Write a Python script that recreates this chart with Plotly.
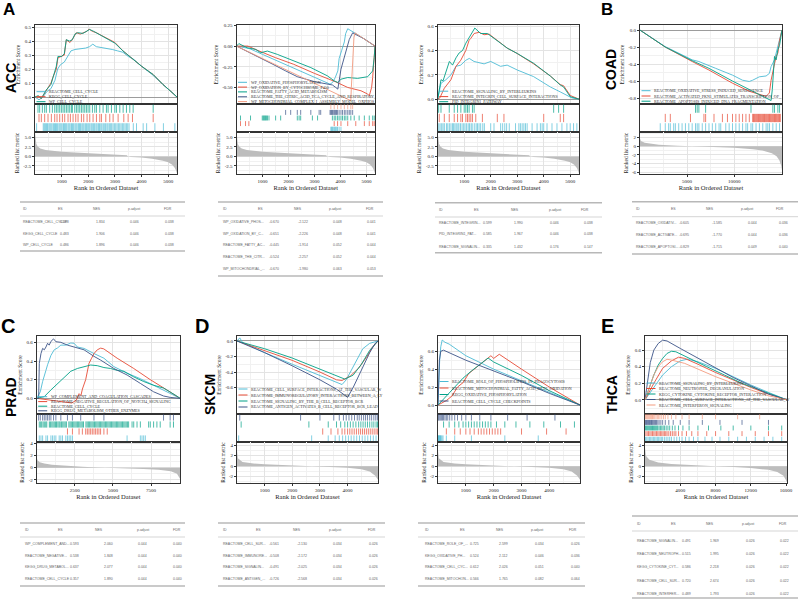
import plotly.graph_objects as go

W, H = 800, 599

# ============================ DATA ============================
TABLE_HEADER = ["ID", "ES", "NES", "p.adjust", "FDR"]

# ---------- ACC (shared ranked list) ----------
acc_N = 5330
acc_metric = [(0, 6.2), (20, 4.5), (50, 3.3), (100, 2.6), (200, 2.1), (400, 1.7), (700, 1.4), (1000, 1.2),
              (1500, 1.0), (2000, 0.8), (2500, 0.6), (3000, 0.4), (3450, 0.28), (3480, 0.02), (3600, -0.12),
              (4000, -0.3), (4400, -0.6), (4800, -1.1), (5000, -1.5), (5150, -2.2), (5250, -3.0), (5300, -3.8),
              (5330, -4.4)]
acc_x_ticks = [1000, 2000, 3000, 4000, 5000]
acc_x_ticktext = ["1000", "2000", "3000", "4000", "5000"]
acc_metric_ticks = [-2.5, 0, 2.5, 5]
acc_metric_ticktext = ["-2.5", "0.0", "2.5", "5.0"]

# ACC plot 1
acc1_sets = ["REACTOME_CELL_CYCLE", "KEGG_CELL_CYCLE", "WP_CELL_CYCLE"]
acc1_es = [
    [(0, 0), (150, -0.02), (300, 0.0), (450, 0.04), (600, 0.06), (750, 0.12), (850, 0.2), (950, 0.23), (1100, 0.25),
     (1250, 0.3), (1350, 0.33), (1500, 0.34), (1700, 0.345), (1900, 0.35), (2050, 0.36), (2170, 0.378), (2300, 0.36),
     (2500, 0.355), (2700, 0.345), (2900, 0.34), (3100, 0.33), (3300, 0.32), (3500, 0.29), (3700, 0.27), (4000, 0.22),
     (4400, 0.16), (4800, 0.09), (5100, 0.04), (5330, 0.0)],
    [(0, 0), (150, 0.0), (240, -0.01), (420, 0.05), (600, 0.1), (670, 0.14), (800, 0.2), (860, 0.28), (1000, 0.29),
     (1100, 0.3), (1175, 0.41), (1300, 0.39), (1365, 0.40), (1450, 0.43), (1550, 0.46), (1700, 0.45), (1800, 0.46),
     (1950, 0.47), (2030, 0.486), (2150, 0.47), (2300, 0.46), (2500, 0.44), (2680, 0.42), (3000, 0.39), (3300, 0.33),
     (3680, 0.267), (4000, 0.22), (4440, 0.16), (4800, 0.09), (5100, 0.04), (5330, 0)],
    [(0, 0), (120, 0.01), (240, -0.01), (420, 0.05), (600, 0.09), (700, 0.15), (800, 0.22), (860, 0.29), (1000, 0.29),
     (1100, 0.31), (1175, 0.41), (1300, 0.40), (1400, 0.41), (1500, 0.45), (1600, 0.46), (1800, 0.455), (1950, 0.47),
     (2050, 0.483), (2200, 0.47), (2350, 0.455), (2500, 0.44), (2700, 0.415), (3000, 0.385), (3300, 0.33),
     (3680, 0.267), (4000, 0.22), (4440, 0.16), (4800, 0.09), (5100, 0.04), (5330, 0)],
]
acc1_hits = [
    [60, 310, 350, 390, 430, 470, 520, 560, 600, 640, 690, 730, 770, 810, 850, 900, 940, 980, 1020, 1070, 1110, 1150,
     1190, 1240, 1280, 1320, 1370, 1410, 1450, 1500, 1540, 1580, 1630, 1670, 1710, 1760, 1800, 1840, 1890, 1930, 1980,
     2020, 2060, 2110, 2150, 2200, 2240, 2290, 2330, 2380, 2420, 2470, 2510, 2560, 2600, 2650, 2700, 2740, 2790, 2840,
     2880, 2930, 2980, 3030, 3080, 3130, 3180, 3230, 3280, 3330, 3380, 3430, 3480, 3530, 3690, 3810, 4060, 4190, 4500,
     4820, 5250],
    [150, 238, 363, 489, 614, 739, 827, 927, 1028, 1115, 1240, 1328, 1429, 1529, 1616, 1742, 1829, 1955, 2055, 2180,
     2306, 2431, 2494, 2657, 2807, 2932, 3120, 3333, 3496, 3659, 4436],
    [113, 175, 276, 363, 426, 551, 652, 739, 802, 864, 927, 990, 1053, 1115, 1178, 1240, 1303, 1366, 1403, 1491, 1554,
     1616, 1679, 1742, 1804, 1867, 1930, 1992, 2055, 2155, 2243, 2306, 2431, 2556, 2681, 2744, 2869, 2995, 3057, 3183,
     3308, 3433, 3558, 3684, 4436],
]
acc1_es_ticks = [0, 0.1, 0.2, 0.3, 0.4, 0.5]
acc1_es_ticktext = ["0.0", "0.1", "0.2", "0.3", "0.4", "0.5"]
acc1_table = [["REACTOME_CELL_CYCLE", "0.378", "1.834", "0.046", "0.038"],
              ["KEGG_CELL_CYCLE", "0.483", "1.906", "0.046", "0.038"],
              ["WP_CELL_CYCLE", "0.486", "1.896", "0.046", "0.038"]]

# ACC plot 2
acc2_sets = ["WP_OXIDATIVE_PHOSPHORYLATION", "WP_OXIDATION_BY_CYTOCHROME_P450", "REACTOME_FATTY_ACID_METABOLISM",
             "REACTOME_THE_CITRIC_ACID_TCA_CYCLE_AND_RESPIRATORY_", "WP_MITOCHONDRIAL_COMPLEX_I_ASSEMBLY_MODEL_OXPHOS"]
acc2_es = [
    [(0, 0), (500, -0.03), (1000, -0.1), (1500, -0.17), (2000, -0.24), (2500, -0.31), (3000, -0.38), (3400, -0.43),
     (3600, -0.46), (3700, -0.44), (3800, -0.38), (3900, -0.3), (3950, -0.15), (4050, -0.05), (4150, 0.05),
     (4200, 0.15), (4280, 0.21), (4700, 0.13), (5330, 0)],
    [(0, 0), (150, 0.0), (440, 0.0), (800, -0.05), (1500, -0.14), (2200, -0.22), (3000, -0.33), (3800, -0.43),
     (4280, -0.5), (4790, -0.54), (5050, -0.58), (5110, -0.6), (5200, -0.5), (5240, -0.38), (5280, -0.25),
     (5300, -0.14), (5330, 0)],
    [(0, 0), (90, 0.03), (410, -0.02), (740, -0.04), (930, -0.08), (1190, -0.06), (1570, -0.1), (2220, -0.18),
     (2860, -0.26), (3500, -0.36), (3760, -0.42), (3900, -0.44), (4020, -0.4), (4280, -0.38), (4660, -0.39),
     (5050, -0.37), (5240, -0.3), (5300, -0.14), (5330, 0)],
    [(0, 0), (800, -0.12), (1400, -0.22), (1890, -0.3), (2340, -0.37), (3000, -0.43), (3690, -0.47), (3820, -0.5),
     (3900, -0.52), (4020, -0.28), (4150, -0.12), (4340, 0.08), (4470, 0.16), (4900, 0.09), (5330, 0)],
    [(0, 0), (1000, -0.15), (2000, -0.3), (3000, -0.45), (4000, -0.6), (4400, -0.66), (4420, -0.5), (4450, -0.3),
     (4480, -0.1), (4520, 0.1), (4560, 0.16), (5330, 0)],
]
acc2_hits = [
    [3630, 3660, 3690, 3720, 3760, 3790, 3820, 3860, 3890, 3950, 4020],
    [154, 347, 476, 3760, 3890, 4020, 4280, 4590, 4920, 5110, 5240, 5300],
    [154, 540, 991, 1030, 1060, 1090, 1120, 1160, 1190, 1250, 1505, 1700, 2340, 2410, 2470, 2920, 3120, 3690, 3760,
     3820, 3890, 3950, 4020, 4080, 4150, 4210, 4280, 4400, 4530, 4720, 4920, 5110, 5240, 5300],
    [1890, 2085, 2340, 2470, 2860, 3180, 3240, 3600, 3630, 3660, 3690, 3720, 3760, 3790, 3820, 3850, 3890, 3950, 4020,
     4080, 4150, 4210, 4280, 4340, 4400, 4470],
    [3630, 3760, 3890, 4020, 4150, 4280, 4400, 4470],
]
acc2_es_ticks = [-0.5, -0.25, 0, 0.25]
acc2_es_ticktext = ["-0.50", "-0.25", "0.00", "0.25"]
acc2_table = [["WP_OXIDATIVE_PHOS...", "-0.670", "-2.122", "0.048", "0.041"],
              ["WP_OXIDATION_BY_C...", "-0.651", "-2.226", "0.048", "0.041"],
              ["REACTOME_FATTY_AC...", "-0.445", "-1.914", "0.052", "0.044"],
              ["REACTOME_THE_CITR...", "-0.524", "-2.257", "0.052", "0.044"],
              ["WP_MITOCHONDRIAL_...", "-0.670", "-1.980", "0.063", "0.053"]]

# ACC plot 3
acc3_sets = ["REACTOME_SIGNALING_BY_INTERLEUKINS", "REACTOME_INTEGRIN_CELL_SURFACE_INTERACTIONS",
             "PID_INTEGRIN1_PATHWAY"]
acc3_es = [
    [(0, 0), (124, 0.13), (310, 0.16), (500, 0.2), (690, 0.27), (870, 0.28), (1060, 0.32), (1190, 0.335),
     (1370, 0.31), (1750, 0.29), (2000, 0.31), (2370, 0.27), (2620, 0.28), (3000, 0.24), (3620, 0.185),
     (4250, 0.10), (4620, 0.06), (4870, 0.035), (5060, 0.01), (5330, 0)],
    [(0, 0), (80, 0.01), (250, 0.09), (500, 0.16), (690, 0.27), (870, 0.32), (1060, 0.40), (1186, 0.485),
     (1249, 0.5), (1374, 0.54), (1560, 0.55), (1750, 0.53), (1940, 0.535), (2250, 0.485), (2620, 0.42),
     (3000, 0.375), (3620, 0.29), (4250, 0.19), (4620, 0.12), (4750, 0.11), (5000, 0.03), (5330, 0)],
    [(0, 0), (124, 0.16), (200, 0.15), (310, 0.23), (440, 0.31), (560, 0.28), (690, 0.34), (810, 0.38), (936, 0.40),
     (1060, 0.46), (1186, 0.51), (1300, 0.55), (1400, 0.585), (1620, 0.54), (1875, 0.54), (2375, 0.46),
     (2620, 0.42), (3000, 0.376), (3620, 0.295), (4250, 0.19), (4620, 0.117), (4750, 0.1), (5000, 0.02), (5330, 0)],
]
acc3_hits = [
    [40, 90, 150, 200, 250, 330, 380, 440, 500, 560, 600, 650, 700, 760, 800, 860, 920, 980, 1030, 1090, 1150, 1200,
     1260, 1300, 1380, 1450, 1500, 1560, 1620, 1700, 1760, 1999, 2124, 2374, 2450, 2530, 2600, 2700, 2936, 3061, 3120,
     3186, 3250, 3311, 3374, 3561, 3749, 3874, 3940, 3999, 4124, 4311, 4499, 4686, 4874, 4999, 5124, 5249],
    [60, 249, 436, 624, 749, 874, 936, 1061, 1124, 1186, 1249, 1311, 1436, 1686, 2249, 2499, 3999, 4624, 4749],
    [36, 124, 436, 624, 749, 874, 1000, 1061, 1124, 1186, 1311, 1374, 4374, 4561, 4749],
]
acc3_es_ticks = [0, 0.2, 0.4, 0.6]
acc3_es_ticktext = ["0.0", "0.2", "0.4", "0.6"]
acc3_table = [["REACTOME_INTEGRIN...", "0.599", "1.990", "0.046", "0.038"],
              ["PID_INTEGRIN1_PAT...", "0.585", "1.967", "0.046", "0.038"],
              ["REACTOME_SIGNALIN...", "0.335", "1.432", "0.176", "0.147"]]

# ---------- COAD ----------
coad_N = 15080
coad_metric = [(0, 1.8), (100, 1.2), (500, 0.8), (1000, 0.6), (2000, 0.35), (4000, 0.15), (6000, 0.0),
               (8000, -0.15), (10000, -0.35), (12000, -0.7), (13000, -1.0), (14000, -1.6), (14500, -2.3),
               (14800, -3.2), (15000, -4.5), (15080, -5.6)]
coad_x_ticks = [5000, 10000]
coad_x_ticktext = ["5000", "10000"]
coad_metric_ticks = [-6, -4, -2, 0, 2]
coad_metric_ticktext = ["-6", "-4", "-2", "0", "2"]
coad_sets = ["REACTOME_OXIDATIVE_STRESS_INDUCED_SENESCENCE", "REACTOME_ACTIVATED_PKN1_STIMULATES_TRANSCRIPTION_OF_",
             "REACTOME_APOPTOSIS_INDUCED_DNA_FRAGMENTATION"]
coad_es = [
    [(0, 0), (2690, -0.195), (5540, -0.35), (6250, -0.37), (8030, -0.45), (9820, -0.53), (10890, -0.59),
     (11600, -0.605), (11960, -0.59), (12320, -0.57), (12670, -0.55), (13390, -0.54), (13740, -0.51), (13920, -0.43),
     (14280, -0.35), (14460, -0.27), (14640, -0.2), (14820, -0.12), (15080, 0)],
    [(0, 0), (2690, -0.2), (5540, -0.37), (7320, -0.47), (9820, -0.625), (11600, -0.72), (13390, -0.78),
     (13740, -0.74), (13920, -0.59), (14100, -0.47), (14280, -0.4), (14460, -0.31), (14640, -0.27), (14820, -0.12),
     (15080, 0)],
    [(0, 0), (2690, -0.2), (5540, -0.36), (7320, -0.45), (9820, -0.6), (11600, -0.70), (13390, -0.80),
     (13920, -0.829), (14050, -0.7), (14100, -0.62), (14280, -0.31), (14460, -0.35), (14640, -0.23), (14820, -0.18),
     (15000, -0.05), (15080, 0)],
]
coad_hits = [
    [2150, 2684, 3041, 3220, 3577, 3755, 4112, 4469, 4826, 5183, 5540, 5897, 6075, 6254, 6611, 6968, 7325, 7682, 8039,
     8396, 8574, 9110, 9467, 9824, 10181, 10538, 10895, 11252, 11430, 11787, 11966, 12323, 12680, 13037, 13394, 13573,
     13751, 14108, 14465, 14822],
    [2684, 3220, 5361, 6789, 6968, 7860, 8753, 9288, 9824, 10181, 10538, 10895, 11252, 11609, 11966, 12050, 12144,
     12230, 12323, 12410, 12501, 12590, 12680, 12770, 12858, 12950, 13037, 13130, 13215, 13300, 13394, 13480, 13573,
     13660, 13751, 13840, 13930, 14020, 14108, 14200, 14287, 14380, 14465, 14550, 14644, 14730, 14822, 14900],
    [5897, 6075, 6254, 6968, 11787, 14108, 14287, 14644, 14822],
]
coad_es_ticks = [-0.8, -0.6, -0.4, -0.2, 0]
coad_es_ticktext = ["-0.8", "-0.6", "-0.4", "-0.2", "0.0"]
coad_table = [["REACTOME_OXIDATIV...", "-0.605", "-1.585", "0.044", "0.036"],
              ["REACTOME_ACTIVATE...", "-0.695", "-1.770", "0.044", "0.036"],
              ["REACTOME_APOPTOSI...", "-0.829", "-1.715", "0.049", "0.040"]]

# ---------- PRAD ----------
prad_N = 9400
prad_metric = [(0, 1.8), (50, 1.2), (200, 0.9), (500, 0.7), (1000, 0.5), (2000, 0.3), (3000, 0.15), (4000, 0.05),
               (5000, 0.0), (6000, -0.1), (7000, -0.2), (8000, -0.35), (8800, -0.6), (9200, -1.0), (9400, -1.8)]
prad_x_ticks = [2500, 5000, 7500]
prad_x_ticktext = ["2500", "5000", "7500"]
prad_metric_ticks = [-2, 0, 2, 4]
prad_metric_ticktext = ["-2", "0", "2", "4"]
prad_sets = ["WP_COMPLEMENT_AND_COAGULATION_CASCADES", "REACTOME_NEGATIVE_REGULATION_OF_NOTCH4_SIGNALING",
             "REACTOME_CELL_CYCLE", "KEGG_DRUG_METABOLISM_OTHER_ENZYMES"]
prad_es = [
    [(0, 0), (236, 0.07), (388, 0.18), (497, 0.23), (606, 0.3), (714, 0.36), (932, 0.46), (1149, 0.52),
     (1366, 0.54), (1583, 0.57), (1909, 0.57), (2235, 0.593), (2453, 0.59), (2670, 0.55), (3105, 0.535),
     (3756, 0.48), (4408, 0.43), (5060, 0.34), (5929, 0.27), (6799, 0.21), (7668, 0.14), (8537, 0.07),
     (8972, 0.036), (9400, 0)],
    [(0, 0), (800, -0.02), (1600, -0.04), (2300, -0.05), (2600, -0.02), (2780, 0.05), (2900, 0.03), (3000, 0.1),
     (3213, 0.2), (3431, 0.375), (3600, 0.43), (3759, 0.48), (3976, 0.52), (4194, 0.538), (4400, 0.53),
     (5277, 0.43), (6364, 0.32), (7451, 0.2), (8537, 0.09), (9400, 0)],
    [(0, 0), (497, 0.018), (932, 0.09), (1366, 0.16), (1800, 0.23), (2235, 0.29), (2670, 0.32), (3105, 0.34),
     (3539, 0.357), (3974, 0.35), (4408, 0.33), (4843, 0.32), (5277, 0.30), (5712, 0.29), (6364, 0.23),
     (7016, 0.18), (7668, 0.14), (8320, 0.11), (8754, 0.07), (9189, 0.025), (9400, 0)],
    [(0, 0), (128, 0.0), (171, 0.375), (280, 0.48), (388, 0.535), (500, 0.52), (606, 0.55), (714, 0.59),
     (820, 0.57), (932, 0.61), (1105, 0.637), (1257, 0.607), (1583, 0.60), (2018, 0.57), (2453, 0.55),
     (3105, 0.52), (3756, 0.45), (4191, 0.41), (5060, 0.32), (5929, 0.25), (6799, 0.16), (7668, 0.07),
     (8320, 0.025), (8754, 0.01), (9400, 0)],
]
prad_hits = [
    [171, 280, 388, 606, 714, 932, 1040, 1149, 1257, 1475, 1583, 1692, 1909, 2018, 2127, 2235, 2344, 5929, 6799,
     6907, 7016, 7125],
    [2018, 2344, 2779, 2996, 3213, 3322, 3431, 3539, 3648, 3756, 3865, 3974, 4083, 4191, 4408, 4626],
    [170, 260, 330, 420, 500, 590, 660, 830, 900, 990, 1070, 1150, 1230, 1300, 1390, 1470, 1540, 1630, 1710, 1790,
     1870, 1950, 2110, 2190, 2270, 2350, 2430, 2510, 2590, 2670, 2750, 2830, 2910, 2990, 3070, 3230, 3310, 3390,
     3470, 3550, 3630, 3710, 3790, 3870, 3950, 4030, 4110, 4190, 4270, 4350, 4430, 4510, 4590, 4670, 4750, 4830,
     4910, 4990, 5070, 5150, 5230, 5310, 5390, 5470, 5550, 5630, 5710, 5790, 5870, 5950, 6030, 6255, 6364, 6581,
     6799, 7342, 7451, 7668, 7885, 8102, 8754, 8972],
    [128, 236, 388, 497, 606, 714, 823, 932, 1105, 1257, 1583, 2018, 2344, 2887, 3756, 4408, 8320, 8754, 8972],
]
prad_es_ticks = [0, 0.2, 0.4, 0.6]
prad_es_ticktext = ["0.0", "0.2", "0.4", "0.6"]
prad_table = [["WP_COMPLEMENT_AND...", "0.593", "2.060", "0.044", "0.040"],
              ["REACTOME_NEGATIVE...", "0.538", "1.848", "0.044", "0.040"],
              ["KEGG_DRUG_METABOL...", "0.637", "2.077", "0.044", "0.040"],
              ["REACTOME_CELL_CYCLE", "0.357", "1.890", "0.044", "0.040"]]

# ---------- SKCM (shared ranked list) ----------
skcm_N = 5100
skcm_metric = [(0, 3.0), (30, 1.5), (200, 0.8), (600, 0.5), (1000, 0.35), (2000, 0.15), (3000, 0.0), (3500, -0.1),
               (4000, -0.3), (4500, -0.6), (4800, -1.0), (5000, -1.8), (5100, -2.6)]
skcm_x_ticks = [1000, 2000, 3000, 4000]
skcm_x_ticktext = ["1000", "2000", "3000", "4000"]
skcm_metric_ticks = [-2, 0, 2, 4]
skcm_metric_ticktext = ["-2", "0", "2", "4"]

skcm1_sets = ["REACTOME_CELL_SURFACE_INTERACTIONS_AT_THE_VASCULAR_W",
              "REACTOME_IMMUNOREGULATORY_INTERACTIONS_BETWEEN_A_LY",
              "REACTOME_SIGNALING_BY_THE_B_CELL_RECEPTOR_BCR",
              "REACTOME_ANTIGEN_ACTIVATES_B_CELL_RECEPTOR_BCR_LEAD"]
skcm1_es = [
    [(0, 0), (100, 0.04), (200, -0.02), (1000, -0.15), (2000, -0.3), (3000, -0.45), (3500, -0.52), (3800, -0.561),
     (3950, -0.5), (4100, -0.4), (4250, -0.3), (4400, -0.2), (4550, -0.1), (4800, -0.03), (5100, 0)],
    [(0, 0), (1000, -0.12), (2000, -0.25), (3000, -0.4), (3600, -0.5), (3800, -0.508), (4100, -0.45), (4400, -0.35),
     (4700, -0.2), (4900, -0.08), (5100, 0)],
    [(0, 0), (1000, -0.1), (2000, -0.22), (3000, -0.36), (3600, -0.45), (3900, -0.491), (4200, -0.44), (4500, -0.3),
     (4800, -0.12), (5100, 0)],
    [(0, 0), (1000, -0.15), (2000, -0.32), (3000, -0.5), (3600, -0.62), (3900, -0.7), (4000, -0.726), (4200, -0.6),
     (4400, -0.45), (4600, -0.3), (4800, -0.15), (5000, -0.03), (5100, 0)],
]
skcm1_hits = [
    [60, 2700, 3300, 3550, 3700, 3820, 3930, 4030, 4130, 4230, 4330, 4430, 4530, 4630, 4730, 4830, 4930, 5030],
    [3100, 3400, 3650, 3800, 3900, 4000, 4080, 4160, 4240, 4320, 4400, 4470, 4540, 4610, 4680, 4750, 4820, 4890,
     4960, 5030, 5090],
    [150, 2600, 3300, 3600, 3750, 3900, 4000, 4100, 4200, 4300, 4400, 4480, 4560, 4640, 4720, 4800, 4880, 4950,
     5030, 5080],
    [100, 2300, 3000, 3500, 3700, 3850, 3950, 4050, 4150, 4250, 4350, 4420, 4500, 4580, 4650, 4720, 4800, 4870,
     4950, 5020, 5080],
]
skcm1_es_ticks = [-0.6, -0.4, -0.2, 0]
skcm1_es_ticktext = ["-0.6", "-0.4", "-0.2", "0.0"]
skcm1_table = [["REACTOME_CELL_SUR...", "-0.561", "-2.130", "0.034", "0.026"],
               ["REACTOME_IMMUNORE...", "-0.508", "-2.172", "0.034", "0.026"],
               ["REACTOME_SIGNALIN...", "-0.491", "-2.025", "0.034", "0.026"],
               ["REACTOME_ANTIGEN_...", "-0.726", "-2.568", "0.034", "0.026"]]

skcm2_sets = ["REACTOME_ROLE_OF_PHOSPHOLIPIDS_IN_PHAGOCYTOSIS",
              "REACTOME_MITOCHONDRIAL_FATTY_ACID_BETA_OXIDATION",
              "KEGG_OXIDATIVE_PHOSPHORYLATION",
              "REACTOME_CELL_CYCLE_CHECKPOINTS"]
skcm2_es = [
    [(0, 0), (30, 0.3), (60, 0.5), (100, 0.65), (150, 0.725), (250, 0.7), (400, 0.68), (1000, 0.55), (2000, 0.4),
     (3000, 0.27), (4000, 0.14), (5100, 0)],
    [(0, 0), (300, 0.05), (500, 0.1), (700, 0.2), (900, 0.25), (1100, 0.35), (1300, 0.4), (1500, 0.45), (1700, 0.5),
     (1900, 0.55), (2000, 0.52), (2200, 0.566), (3000, 0.4), (4000, 0.2), (5100, 0)],
    [(0, 0), (300, 0.1), (600, 0.2), (900, 0.3), (1200, 0.38), (1500, 0.45), (1700, 0.5), (1800, 0.524),
     (2000, 0.48), (3000, 0.33), (4000, 0.16), (5100, 0)],
    [(0, 0), (20, 0.3), (50, 0.5), (100, 0.6), (200, 0.612), (1000, 0.5), (2000, 0.38), (3000, 0.26), (4000, 0.13),
     (5100, 0)],
]
skcm2_hits = [
    [5, 20, 35, 50, 70, 90, 110, 140, 180, 300, 600, 1200, 2400, 3600],
    [300, 600, 800, 1000, 1150, 1300, 1450, 1550, 1650, 1750, 1850, 1950, 2050, 2150, 2250, 3000, 3900, 4600],
    [200, 400, 600, 750, 900, 1000, 1100, 1200, 1300, 1400, 1500, 1600, 1700, 1800, 1900, 2100, 2400, 2800, 3300,
     3800, 4400, 4900],
    [10, 40, 80, 120, 160, 200, 250, 300, 350, 420, 500, 600, 700, 850, 1000, 1200, 1500, 1900, 2500, 3200, 4200],
]
skcm2_es_ticks = [0, 0.2, 0.4, 0.6]
skcm2_es_ticktext = ["0.0", "0.2", "0.4", "0.6"]
skcm2_table = [["REACTOME_ROLE_OF_...", "0.725", "2.599", "0.034", "0.026"],
               ["KEGG_OXIDATIVE_PH...", "0.524", "2.112", "0.046", "0.036"],
               ["REACTOME_CELL_CYC...", "0.612", "2.026", "0.051", "0.040"],
               ["REACTOME_MITOCHON...", "0.566", "1.765", "0.082", "0.064"]]

# ---------- THCA ----------
thca_N = 16100
thca_metric = [(0, 3.5), (100, 2.0), (500, 1.2), (1500, 0.7), (3000, 0.4), (6000, 0.1), (8000, 0.0),
               (10000, -0.15), (12000, -0.35), (14000, -0.7), (15000, -1.1), (15700, -1.8), (16100, -3.0)]
thca_x_ticks = [4000, 8000, 12000, 16000]
thca_x_ticktext = ["4000", "8000", "12000", "16000"]
thca_metric_ticks = [-2, 0, 2, 4]
thca_metric_ticktext = ["-2", "0", "2", "4"]
thca_sets = ["REACTOME_SIGNALING_BY_INTERLEUKINS", "REACTOME_NEUTROPHIL_DEGRANULATION",
             "KEGG_CYTOKINE_CYTOKINE_RECEPTOR_INTERACTION", "REACTOME_CELL_SURFACE_INTERACTIONS_AT_THE_VASCULAR_W",
             "REACTOME_INTERFERON_SIGNALING"]
thca_es = [
    [(0, 0), (1000, 0.15), (2000, 0.3), (3000, 0.4), (4000, 0.47), (4800, 0.491), (6000, 0.46), (8000, 0.38),
     (10000, 0.28), (12000, 0.18), (14000, 0.09), (16100, 0)],
    [(0, 0), (1000, 0.2), (2000, 0.38), (3000, 0.47), (3800, 0.515), (4500, 0.5), (6000, 0.43), (8000, 0.33),
     (10000, 0.24), (12000, 0.15), (14000, 0.07), (16100, 0)],
    [(0, 0), (500, 0.15), (1000, 0.3), (1500, 0.42), (2000, 0.5), (2500, 0.56), (3000, 0.586), (3500, 0.58),
     (5000, 0.5), (7000, 0.4), (9000, 0.3), (11000, 0.2), (13000, 0.12), (15000, 0.04), (16100, 0)],
    [(0, 0), (300, 0.25), (600, 0.45), (1000, 0.6), (1500, 0.68), (2000, 0.72), (2500, 0.71), (4000, 0.62),
     (6000, 0.5), (8000, 0.38), (10000, 0.27), (12000, 0.17), (14000, 0.07), (16100, 0)],
    [(0, 0), (500, 0.15), (1000, 0.3), (1500, 0.4), (2000, 0.46), (2500, 0.489), (3000, 0.48), (4500, 0.44),
     (6000, 0.37), (8000, 0.28), (10000, 0.2), (12000, 0.12), (14000, 0.05), (16100, 0)],
]
thca_hits = [
    [50, 200, 350, 500, 650, 800, 950, 1100, 1250, 1400, 1550, 1700, 1850, 2000, 2200, 2400, 2600, 2800, 3000, 3300,
     3600, 3900, 4200, 4600, 5000, 5500, 6000, 6800, 7600, 8500, 9500, 10500, 11500, 12500, 13500, 14500, 15500],
    [100, 250, 400, 550, 700, 850, 1000, 1150, 1300, 1450, 1600, 1750, 1900, 2050, 2200, 2350, 2500, 2700, 2900,
     3100, 3300, 3500, 3800, 4200, 4700, 5300, 6000, 7000, 8000, 9500, 11000, 12500, 14000, 15500],
    [50, 150, 250, 350, 450, 550, 650, 750, 850, 950, 1050, 1150, 1250, 1350, 1450, 1600, 1750, 1900, 2050, 2200,
     2400, 2600, 2800, 3100, 3400, 3800, 4300, 5000, 6000, 7200, 8600, 10000, 12000, 14000, 15500],
    [30, 100, 180, 260, 340, 420, 500, 580, 660, 740, 820, 900, 1000, 1100, 1200, 1300, 1450, 1600, 1800, 2000, 2300,
     2700, 3200, 4000, 5000, 6500, 8500, 11000, 14000],
    [50, 150, 250, 350, 450, 550, 650, 750, 850, 950, 1100, 1250, 1400, 1550, 1700, 1900, 2100, 2300, 2600, 3000,
     3500, 4200, 5000, 6500, 8000, 10500, 13000],
]
thca_es_ticks = [0, 0.2, 0.4, 0.6]
thca_es_ticktext = ["0.0", "0.2", "0.4", "0.6"]
thca_table = [["REACTOME_SIGNALIN...", "0.491", "1.969", "0.026", "0.022"],
              ["REACTOME_NEUTROPH...", "0.515", "1.995", "0.026", "0.022"],
              ["KEGG_CYTOKINE_CYT...", "0.586", "2.218", "0.026", "0.022"],
              ["REACTOME_CELL_SUR...", "0.720", "2.674", "0.026", "0.022"],
              ["REACTOME_INTERFER...", "0.489", "1.793", "0.026", "0.022"]]

panel_letters = ["A", "B", "C", "D", "E"]
cancer_labels = ["ACC", "COAD", "PRAD", "SKCM", "THCA"]

# ============================ STYLE / LAYOUT ============================
SERIF = "Liberation Serif, DejaVu Serif, serif"
SANS = "Liberation Sans, Arial, sans-serif"
PAL = ["#4DBBD5", "#E64B35", "#00A087", "#3C5488", "#F39B7F"]
LINE = "#333333"
GRID = "#E3E3E3"
GRID_MINOR = "#F1F1F1"
TICKFONT = dict(family=SERIF, size=5, color="#222222")

fig = go.Figure()
axes = {}
shapes = []
annotations = []


def fx(px):
    return px / W


def fy(py):
    return 1 - py / H


def an(kind, k):
    return f"{kind}axis" if k == 1 else f"{kind}axis{k}"


def ar(kind, k):
    return kind if k == 1 else f"{kind}{k}"


def midpoints(ticks):
    step = ticks[1] - ticks[0]
    return [t - step / 2 for t in ticks] + [ticks[-1] + step / 2]


def gsea(idx, geo, N, sets, es, hits, metric, es_range, es_ticks, es_ticktext, m_range, m_ticks, m_ticktext,
         x_ticks, x_ticktext, legend_y):
    k1, k2, k3 = 3 * idx + 1, 3 * idx + 2, 3 * idx + 3
    n = len(sets)
    xdom = [fx(geo["x0"]), fx(geo["x1"])]
    xmin = midpoints(x_ticks)
    base = dict(domain=xdom, range=[0, N], showline=True, linecolor=LINE, linewidth=0.8, mirror=True,
                zeroline=False, automargin=False)
    axes[an("x", k1)] = dict(base, anchor=ar("y", k1), tickvals=x_ticks, showticklabels=False, ticks="",
                             showgrid=True, gridcolor=GRID, gridwidth=0.6,
                             minor=dict(tickvals=xmin, showgrid=True, gridcolor=GRID_MINOR, gridwidth=0.4))
    axes[an("y", k1)] = dict(domain=[fy(geo["es_bot"]), fy(geo["top"])], range=es_range, anchor=ar("x", k1),
                             tickvals=es_ticks, ticktext=es_ticktext, tickfont=TICKFONT, ticks="outside", ticklen=2,
                             tickwidth=0.6, tickcolor=LINE, showgrid=True, gridcolor=GRID, gridwidth=0.6,
                             minor=dict(tickvals=midpoints(es_ticks), showgrid=True, gridcolor=GRID_MINOR,
                                        gridwidth=0.4),
                             showline=True, linecolor=LINE, linewidth=0.8, mirror=True, zeroline=True,
                             zerolinecolor="#9C9C9C", zerolinewidth=0.7, automargin=False,
                             title=dict(text="Enrichment Score", font=dict(family=SERIF, size=5.5, color="#222"),
                                        standoff=3))
    axes[an("x", k2)] = dict(base, anchor=ar("y", k2), showticklabels=False, ticks="", showgrid=False)
    axes[an("y", k2)] = dict(domain=[fy(geo["hit_bot"]), fy(geo["es_bot"])], range=[0, n], anchor=ar("x", k2),
                             showticklabels=False, ticks="", showgrid=False, zeroline=False, showline=True,
                             linecolor=LINE, linewidth=0.8, mirror=True, automargin=False)
    axes[an("x", k3)] = dict(base, anchor=ar("y", k3), tickvals=x_ticks, ticktext=x_ticktext, tickfont=TICKFONT,
                             ticks="outside", ticklen=2, tickwidth=0.6, tickcolor=LINE, showgrid=True,
                             gridcolor=GRID, gridwidth=0.6,
                             minor=dict(tickvals=xmin, showgrid=True, gridcolor=GRID_MINOR, gridwidth=0.4),
                             title=dict(text="Rank in Ordered Dataset",
                                        font=dict(family=SERIF, size=6.5, color="#222"), standoff=1))
    axes[an("y", k3)] = dict(domain=[fy(geo["bot"]), fy(geo["hit_bot"])], range=m_range, anchor=ar("x", k3),
                             tickvals=m_ticks, ticktext=m_ticktext, tickfont=TICKFONT, ticks="outside", ticklen=2,
                             tickwidth=0.6, tickcolor=LINE, showgrid=True, gridcolor=GRID, gridwidth=0.6,
                             minor=dict(tickvals=midpoints(m_ticks), showgrid=True, gridcolor=GRID_MINOR,
                                        gridwidth=0.4),
                             showline=True, linecolor=LINE, linewidth=0.8, mirror=True, zeroline=False,
                             automargin=False,
                             title=dict(text="Ranked list metric", font=dict(family=SERIF, size=5.5, color="#222"),
                                        standoff=3))
    fig.add_trace(go.Scatter(x=[p[0] for p in metric], y=[p[1] for p in metric], mode="lines",
                             line=dict(width=0, color="#BDBDBD"), fill="tozeroy", fillcolor="#BDBDBD",
                             xaxis=ar("x", k3), yaxis=ar("y", k3), showlegend=False, hoverinfo="skip"))
    for j in range(n):
        xs, ys = [], []
        for r in hits[j]:
            xs += [r, r, None]
            ys += [j + 0.06, j + 0.94, None]
        fig.add_trace(go.Scatter(x=xs, y=ys, mode="lines", line=dict(color=PAL[j], width=0.7),
                                 xaxis=ar("x", k2), yaxis=ar("y", k2), showlegend=False, hoverinfo="skip"))
    for j in range(n):
        fig.add_trace(go.Scatter(x=[p[0] for p in es[j]], y=[p[1] for p in es[j]], mode="lines",
                                 line=dict(color=PAL[j], width=0.9), xaxis=ar("x", k1), yaxis=ar("y", k1),
                                 showlegend=False, hoverinfo="skip"))
    for j in range(n):
        ly = legend_y[j]
        shapes.append(dict(type="line", xref="paper", yref="paper", x0=fx(geo["x0"] + 1.5),
                           x1=fx(geo["x0"] + 10.5), y0=fy(ly), y1=fy(ly), line=dict(color=PAL[j], width=1)))
        annotations.append(dict(xref="paper", yref="paper", x=fx(geo["x0"] + 12), y=fy(ly), text=sets[j],
                                showarrow=False, xanchor="left", yanchor="middle",
                                font=dict(family=SERIF, size=4, color="#333333")))


def txt(x, y, s, anchor):
    return dict(xref="paper", yref="paper", x=fx(x), y=fy(y), text=s, showarrow=False, xanchor=anchor,
                yanchor="middle", borderpad=0, font=dict(family=SANS, size=3.5, color="#666666"))


def table(t, rows):
    for yy, w, c in [(t["top"], 1.6, "#B8B8B8"), (t["hline"], 0.9, "#D0D0D0"), (t["bottom"], 1.6, "#B8B8B8")]:
        shapes.append(dict(type="line", xref="paper", yref="paper", x0=fx(t["x0"]), x1=fx(t["x1"]),
                           y0=fy(yy), y1=fy(yy), line=dict(color=c, width=w)))
    hx = t["hdr_x"]
    for c, label in enumerate(TABLE_HEADER):
        annotations.append(txt(hx[c], t["hdr"], label, "left" if c == 0 else "center"))
    for r, row in enumerate(rows):
        y = t["rows"][r]
        annotations.append(txt(hx[0], y, row[0], "left"))
        annotations.append(txt(t["es"], y, row[1], "left"))
        annotations.append(txt(t["nes"], y, row[2], "center"))
        annotations.append(txt(t["padj"], y, row[3], "center"))
        annotations.append(txt(t["fdr"], y, row[4], "center"))


TOP = dict(top=25, es_bot=104, hit_bot=132, bot=174)
BOT = dict(top=336, es_bot=414, hit_bot=442, bot=483)

gsea(0, dict(TOP, x0=35, x1=177), acc_N, acc1_sets, acc1_es, acc1_hits, acc_metric, [-0.05, 0.515],
     acc1_es_ticks, acc1_es_ticktext, [-4.6, 6.4], acc_metric_ticks, acc_metric_ticktext, acc_x_ticks,
     acc_x_ticktext, [91.7, 96.7, 101.7])
gsea(1, dict(TOP, x0=236.5, x1=375), acc_N, acc2_sets, acc2_es, acc2_hits, acc_metric, [-0.70, 0.255],
     acc2_es_ticks, acc2_es_ticktext, [-4.6, 6.4], acc_metric_ticks, acc_metric_ticktext, acc_x_ticks,
     acc_x_ticktext, [82.3, 87.1, 91.9, 96.8, 101.6])
gsea(2, dict(TOP, x0=437.7, x1=579), acc_N, acc3_sets, acc3_es, acc3_hits, acc_metric, [-0.04, 0.61],
     acc3_es_ticks, acc3_es_ticktext, [-4.6, 6.4], acc_metric_ticks, acc_metric_ticktext, acc_x_ticks,
     acc_x_ticktext, [91.2, 96.6, 101.7])
gsea(3, dict(TOP, x0=640, x1=782), coad_N, coad_sets, coad_es, coad_hits, coad_metric, [-0.87, 0.06],
     coad_es_ticks, coad_es_ticktext, [-6.4, 3.3], coad_metric_ticks, coad_metric_ticktext, coad_x_ticks,
     coad_x_ticktext, [90.7, 96.0, 101.2])
gsea(4, dict(BOT, x0=36.7, x1=180), prad_N, prad_sets, prad_es, prad_hits, prad_metric, [-0.168, 0.668],
     prad_es_ticks, prad_es_ticktext, [-2.5, 4.2], prad_metric_ticks, prad_metric_ticktext, prad_x_ticks,
     prad_x_ticktext, [396.7, 401.6, 406.2, 410.8])
gsea(5, dict(BOT, x0=237, x1=378), skcm_N, skcm1_sets, skcm1_es, skcm1_hits, skcm_metric, [-0.94, 0.064],
     skcm1_es_ticks, skcm1_es_ticktext, [-3.2, 4.6], skcm_metric_ticks, skcm_metric_ticktext, skcm_x_ticks,
     skcm_x_ticktext, [389, 395, 401, 407])
gsea(6, dict(BOT, x0=438, x1=580), skcm_N, skcm2_sets, skcm2_es, skcm2_hits, skcm_metric, [-0.1, 0.77],
     skcm2_es_ticks, skcm2_es_ticktext, [-3.2, 4.6], skcm_metric_ticks, skcm_metric_ticktext, skcm_x_ticks,
     skcm_x_ticktext, [381.5, 388, 394.5, 401])
gsea(7, dict(BOT, x0=645, x1=787), thca_N, thca_sets, thca_es, thca_hits, thca_metric, [-0.17, 0.77],
     thca_es_ticks, thca_es_ticktext, [-3.2, 4.6], thca_metric_ticks, thca_metric_ticktext, thca_x_ticks,
     thca_x_ticktext, [383, 388.5, 394, 399.5, 405])

TT = dict(top=202, hdr=209, hline=216, bottom=251, rows=[222, 233.5, 245])
TB = dict(top=523, hdr=530, hline=537, bottom=586, rows=[544, 556, 567, 579])
table(dict(TT, x0=20, x1=185, hdr_x=[22, 60, 97, 134, 168], es=59, nes=100, padj=134, fdr=169), acc1_table)
table(dict(TT, x0=218, x1=383, bottom=276, rows=[222, 233.5, 245, 257, 269], hdr_x=[222, 260, 298, 335, 370],
           es=268, nes=303, padj=337, fdr=371), acc2_table)
table(dict(TT, x0=435, x1=602, top=202.7, hdr=210, hline=217, bottom=252.7, rows=[222.7, 234, 246.7],
           hdr_x=[438, 476.7, 515, 555, 585], es=482, nes=518, padj=554, fdr=588), acc3_table)
table(dict(TT, x0=632, x1=798, top=201.7, hline=216.7, bottom=254, rows=[223.3, 235, 247.3],
           hdr_x=[635, 673, 710, 747, 780], es=678, nes=717, padj=752, fdr=783), coad_table)
table(dict(TB, x0=20, x1=185, hdr_x=[24, 60, 99, 143, 177], es=69, nes=108, padj=142, fdr=177), prad_table)
table(dict(TB, x0=218, x1=385, hdr_x=[222, 258, 297, 335, 372], es=268, nes=302, padj=337, fdr=373),
      skcm1_table)
table(dict(TB, x0=418, x1=585, hdr_x=[424, 462, 500, 537, 573], es=469, nes=503, padj=539, fdr=575),
      skcm2_table)
table(dict(TB, x0=632, x1=798, top=516, hdr=524, hline=531, bottom=598, rows=[541, 554, 567, 580.5, 593.5],
           hdr_x=[636, 673, 710, 748, 783], es=681, nes=714, padj=750, fdr=784), thca_table)

letter_pos = [(8.5, 9, 17), (606.5, 9, 17), (7.5, 325.5, 20), (201.5, 325.5, 20), (607.5, 325.5, 20)]
for (lx, ly, fs), s in zip(letter_pos, panel_letters):
    annotations.append(dict(xref="paper", yref="paper", x=fx(lx), y=fy(ly), text=f"<b>{s}</b>", showarrow=False,
                            xanchor="center", yanchor="middle", font=dict(family=SANS, size=fs, color="black")))
cancer_pos = [(11, 78), (611, 70), (11, 397), (210, 395), (612, 395)]
for (lx, ly), s in zip(cancer_pos, cancer_labels):
    annotations.append(dict(xref="paper", yref="paper", x=fx(lx), y=fy(ly), text=f"<b>{s}</b>", showarrow=False,
                            xanchor="center", yanchor="middle", textangle=-90,
                            font=dict(family=SANS, size=14, color="black")))

fig.update_layout(width=W, height=H, autosize=False, margin=dict(l=0, r=0, t=0, b=0),
                  paper_bgcolor="white", plot_bgcolor="white", showlegend=False,
                  shapes=shapes, annotations=annotations, **axes)
fig.write_html("out.html", config={"displayModeBar": False},
               post_script="document.body.style.margin='0';document.body.style.overflow='hidden';")
